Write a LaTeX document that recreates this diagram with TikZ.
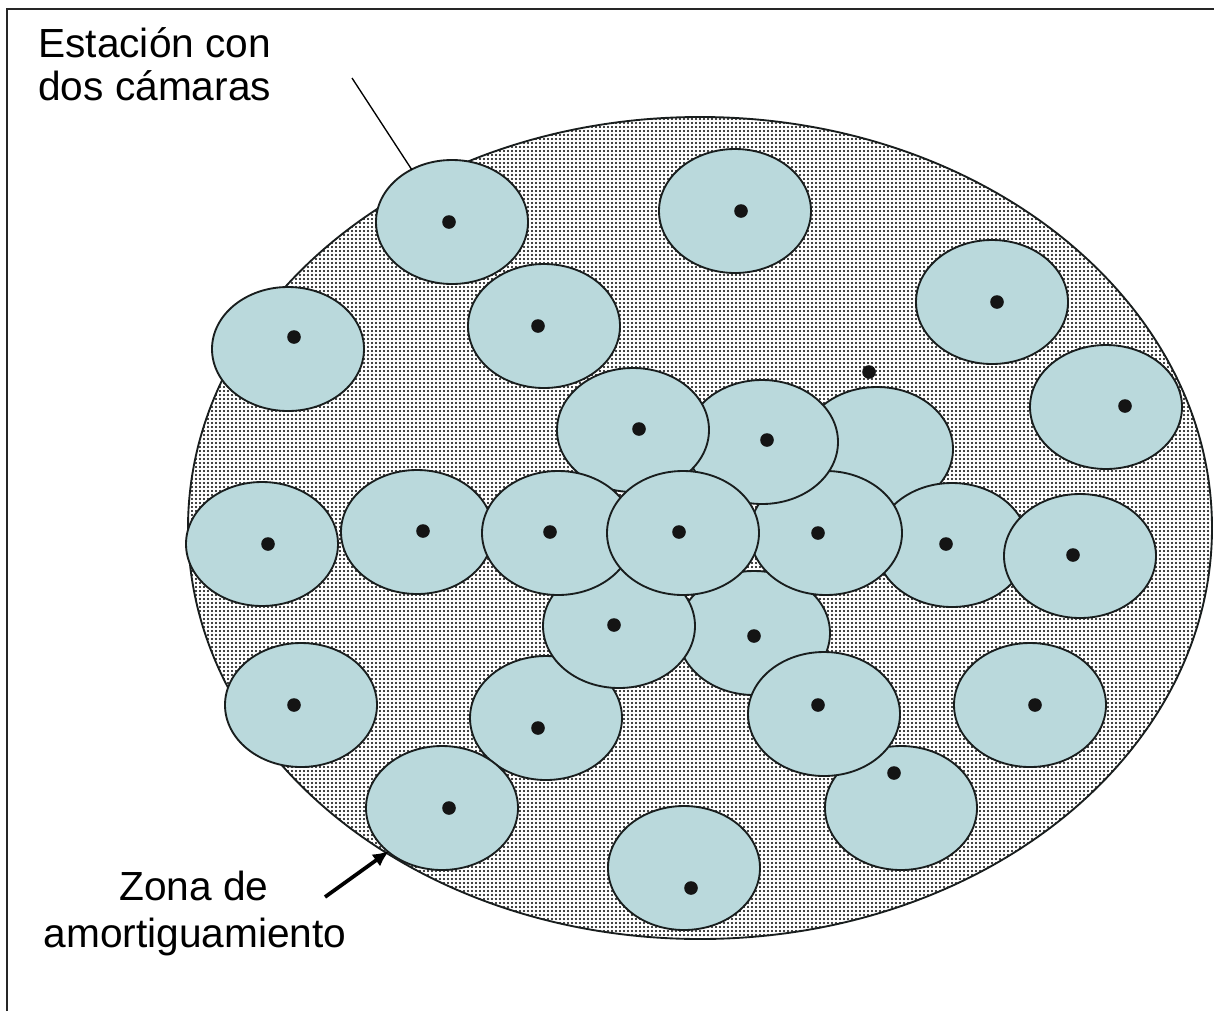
\documentclass[tikz,border=0pt]{standalone}
\usepackage{fontspec}
\setmainfont{Liberation Sans}
\usetikzlibrary{arrows.meta,patterns.meta}
\definecolor{zonafill}{RGB}{186,217,220}
\definecolor{lineink}{RGB}{25,30,30}
\newcommand\estacion[4]{%
  \draw[zona] (#1,#2) ellipse [x radius=76, y radius=62];
  \fill[dotink] (#3,#4) circle [radius=6.8];}
\tikzset{
  zona/.style={fill=zonafill, draw=lineink, line width=1.4pt},
  dotink/.style={black!92},
  labeltext/.style={inner sep=0pt, font=\fontsize{30.5}{34}\selectfont},
}
\begin{document}
\begin{tikzpicture}[x=0.75pt,y=-0.75pt]
\useasboundingbox (0,0) rectangle (1214,1011);
\fill[white] (0,0) rectangle (1214,1011);
% frame (top and left edges visible)
\draw[line width=1.6pt, black!85] (7,1011) -- (7,9) -- (1214,9);
% outer buffer zone
\fill[white] (700,528) ellipse [x radius=512, y radius=411];
\path[pattern={Dots[distance=3pt, radius=0.85pt]}, pattern color=black] (700,528) ellipse [x radius=512, y radius=411];
\draw[lineink, line width=1.4pt] (700,528) ellipse [x radius=512, y radius=411];
% stations (drawing order gives overlaps)
\estacion{452}{222}{449}{222}   % 1
\estacion{544}{326}{538}{326}   % 5
\draw[zona] (877,449) ellipse [x radius=76, y radius=62]; % 9 (no dot)
\estacion{952}{545}{946}{544}   % 15
\estacion{1080}{556}{1073}{555} % 16
\estacion{754}{633}{754}{636}   % 18
\estacion{546}{718}{538}{728}   % 20
\estacion{619}{626}{614}{625}   % 17
\estacion{826}{533}{818}{533}   % 14
\estacion{762}{442}{767}{440}   % 8
\estacion{633}{430}{639}{429}   % 7
\estacion{262}{544}{268}{544}   % 10
\estacion{417}{532}{423}{531}   % 11
\estacion{558}{533}{550}{532}   % 12
\estacion{683}{533}{679}{532}   % 13
\estacion{901}{808}{894}{773}   % 24
\estacion{824}{714}{818}{705}   % 21
\estacion{735}{211}{741}{211}   % 2
\estacion{992}{302}{997}{302}   % 3
\estacion{288}{349}{294}{337}   % 4
\estacion{1106}{407}{1125}{406} % 6
\estacion{301}{705}{294}{705}   % 19
\estacion{1030}{705}{1035}{705} % 22
\estacion{442}{808}{449}{808}   % 23
\estacion{684}{868}{691}{888}   % 25
% lone camera dot
\fill[dotink] (869,372) circle [radius=6.8];
% labels
\node[labeltext, anchor=base west] (est1) at (38,57) {Estación con};
\node[labeltext, anchor=base west] (est2) at (38,100) {dos cámaras};
\node[labeltext, anchor=base] (zon1) at (194,900) {Zona de};
\node[labeltext, anchor=base] (zon2) at (195,947) {amortiguamiento};
% leaders
\coordinate (leadtop) at (352,78);
\coordinate (leadend) at (412,170);
\draw[black, line width=1pt] (leadtop) -- (leadend);
\coordinate (arrtail) at (325,897);
\coordinate (arrhead) at (389,851);
\draw[black, line width=2.8pt, -{Latex[length=12pt,width=11pt]}] (arrtail) -- (arrhead);
\end{tikzpicture}
\end{document}
